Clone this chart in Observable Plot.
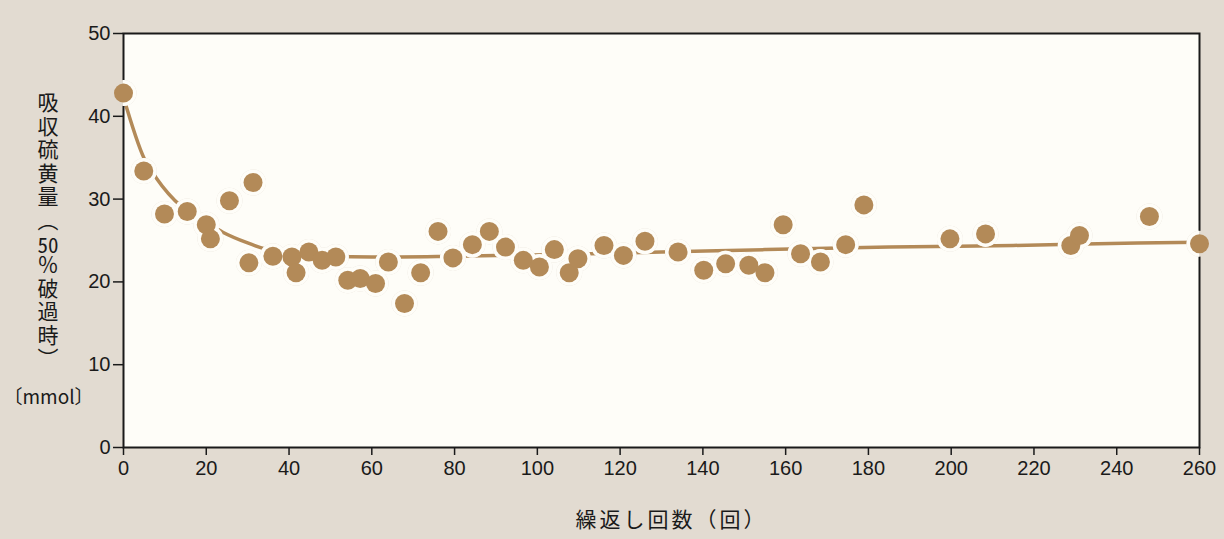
<!DOCTYPE html>
<html>
<head>
<meta charset="utf-8">
<script src="https://cdn.jsdelivr.net/npm/d3@7"></script>
<script src="https://cdn.jsdelivr.net/npm/@observablehq/plot@0.6"></script>
<style>
  html, body { margin: 0; padding: 0; background: #e2dbd1; }
  #wrap { position: relative; width: 1224px; height: 539px; }
  #ytitle {
    position: absolute; left: 37px; top: 92px;
    writing-mode: vertical-rl; text-orientation: mixed;
    font-family: 'Noto Sans CJK JP', 'Noto Sans CJK SC', sans-serif;
    font-size: 21px; line-height: 22px; letter-spacing: 2.5px; color: #1a1a1a;
    white-space: nowrap;
  }
  #ytitle .tcy { text-combine-upright: all; }
</style>
</head>
<body>
<div id="wrap"></div>
<script>
// Repeated absorption runs: sulfur absorbed at 50% breakthrough (mmol)
const cycles = [
  0, 4.9, 9.9, 15.4, 20.0, 21.0, 25.6, 31.3, 30.3, 36.1,
  40.7, 41.7, 44.8, 48.0, 51.3, 54.2, 57.2, 60.9, 64.0, 67.9,
  71.8, 76.0, 79.6, 84.3, 88.4, 92.3, 96.6, 100.5, 104.1, 107.7,
  109.8, 116.1, 120.8, 126.0, 134.0, 140.2, 145.5, 151.1, 155.0, 159.4,
  163.6, 168.4, 174.5, 178.9, 199.7, 208.3, 228.9, 231.0, 247.9, 260
];
const sulfur = [
  42.8, 33.4, 28.2, 28.5, 26.9, 25.2, 29.8, 32.0, 22.3, 23.1,
  23.0, 21.1, 23.6, 22.6, 23.0, 20.2, 20.4, 19.8, 22.4, 17.4,
  21.1, 26.1, 22.9, 24.5, 26.1, 24.2, 22.6, 21.8, 23.9, 21.1,
  22.8, 24.4, 23.2, 24.9, 23.6, 21.4, 22.2, 22.0, 21.1, 26.9,
  23.4, 22.4, 24.5, 29.3, 25.2, 25.8, 24.4, 25.6, 27.9, 24.6
];

// Hand-fitted trend curve through the runs
const trendCycles = [0, 5, 8, 14, 20, 24, 30, 34, 40, 50, 60, 80, 105, 130, 155, 185, 215, 245, 260];
const trendSulfur = [42.3, 34.9, 32.5, 29.1, 27.2, 26.0, 24.7, 24.0, 23.4, 23.1, 23.0, 23.1, 23.3, 23.6, 23.9, 24.2, 24.4, 24.7, 24.8];

const xTicks = [0, 20, 40, 60, 80, 100, 120, 140, 160, 180, 200, 220, 240, 260];
const yTicks = [0, 10, 20, 30, 40, 50];

const yTitleParts = ["吸収硫黄量（", "50", "％破過時）"];
const yUnit = "〔mmol〕";
const xTitle = "繰返し回数（回）";

const points = cycles.map((c, i) => ({cycles: c, sulfur: sulfur[i]}));
const trend = trendCycles.map((c, i) => ({cycles: c, sulfur: trendSulfur[i]}));

const brown = "#b38a58";
const paper = "#fefdf8";
const page = "#e2dbd1";
const ink = "#1a1a1a";
const cjk = "'Noto Sans CJK JP', 'Noto Sans CJK SC', sans-serif";

const chart = Plot.plot({
  width: 1224,
  height: 539,
  marginLeft: 123,
  marginRight: 25,
  marginTop: 33,
  marginBottom: 92,
  style: {background: page, fontFamily: "'Liberation Sans', Arial, sans-serif", fontSize: "20px", color: ink},
  x: {domain: [0, 260]},
  y: {domain: [0, 50]},
  marks: [
    Plot.frame({fill: paper, stroke: null}),
    Plot.line(trend, {x: "cycles", y: "sulfur", stroke: brown, strokeWidth: 3.5, curve: "monotone-x"}),
    Plot.frame({stroke: ink, strokeWidth: 2}),
    Plot.axisX({ticks: xTicks, tickSize: 8, tickPadding: 5, strokeWidth: 1.5, label: null, fontSize: 20}),
    Plot.axisY({ticks: yTicks, tickSize: 10, tickPadding: 3, strokeWidth: 1.5, label: null, fontSize: 20}),
    // halo breaks the curve and the frame where they pass behind a run
    Plot.dot(points, {x: "cycles", y: "sulfur", r: 13, fill: page, stroke: null}),
    Plot.dot(points, {x: "cycles", y: "sulfur", r: 13, fill: paper, stroke: null, clip: "frame"}),
    Plot.dot(points, {x: "cycles", y: "sulfur", r: 9.5, fill: brown, stroke: null}),
    Plot.text([yUnit], {
      text: d => d, frameAnchor: "top-left", dx: -75, dy: 364,
      lineAnchor: "middle", textAnchor: "middle",
      fontSize: 19, fontFamily: cjk, fill: ink
    }),
    Plot.text([xTitle], {
      text: d => d, frameAnchor: "bottom", dx: 10, dy: 73,
      lineAnchor: "middle", textAnchor: "middle",
      fontSize: 21, fontFamily: cjk, fill: ink
    })
  ]
});

// open up the x title a little, as set in the printed figure
d3.select(chart).selectAll("text")
  .filter(function() { return this.textContent === xTitle; })
  .style("letter-spacing", "3px")
  .style("text-spacing-trim", "space-all")
  .style("font-feature-settings", "'chws' 0, 'halt' 0");

const wrap = document.getElementById("wrap");
wrap.append(chart);

// vertical y-axis title, with the number set upright across the column
const yTitle = document.createElement("div");
yTitle.id = "ytitle";
yTitle.append(yTitleParts[0]);
const num = document.createElement("span");
num.className = "tcy";
num.textContent = yTitleParts[1];
yTitle.append(num, yTitleParts[2]);
wrap.append(yTitle);
</script>
</body>
</html>
